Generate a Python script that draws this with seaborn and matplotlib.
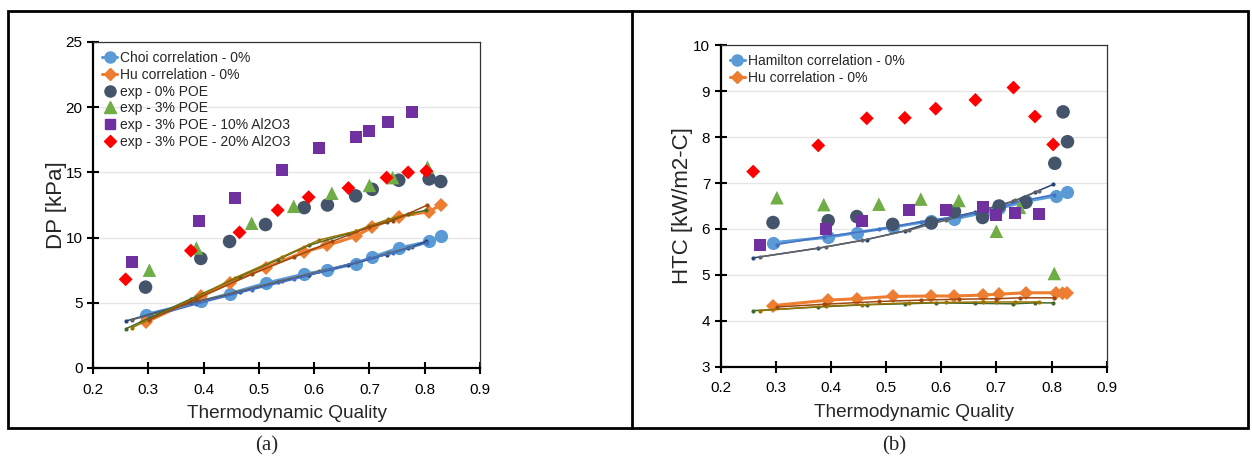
import matplotlib
matplotlib.use("Agg")
import matplotlib.pyplot as plt
from matplotlib.lines import Line2D
from matplotlib.patches import Rectangle
import seaborn as sns
import numpy as np

# x positions (thermodynamic quality) of each test set
x_0poe = [0.295, 0.395, 0.447, 0.512, 0.582, 0.624, 0.675, 0.705, 0.753, 0.808, 0.829]
x_3poe = [0.302, 0.387, 0.487, 0.563, 0.632, 0.700, 0.742, 0.805]
x_10al = [0.271, 0.391, 0.456, 0.541, 0.608, 0.676, 0.700, 0.734, 0.777]
x_20al = [0.259, 0.377, 0.465, 0.534, 0.590, 0.662, 0.731, 0.770, 0.803]
x_0poe_b = [0.295, 0.395, 0.447, 0.512, 0.582, 0.624, 0.675, 0.705, 0.753, 0.806, 0.821, 0.829]

# (a) pressure drop
dp_choi = [4.1, 5.1, 5.7, 6.5, 7.2, 7.5, 8.0, 8.5, 9.2, 9.7, 10.1]
dp_hu = [3.5, 5.5, 6.5, 7.7, 8.9, 9.4, 10.1, 10.8, 11.6, 12.0, 12.5]
dp_exp0 = [6.2, 8.4, 9.7, 11.0, 12.3, 12.5, 13.2, 13.7, 14.4, 14.5, 14.3]
dp_exp3 = [7.5, 9.2, 11.1, 12.4, 13.4, 14.0, 14.6, 15.4]
dp_exp10 = [8.1, 11.3, 13.0, 15.2, 16.9, 17.7, 18.2, 18.9, 19.6]
dp_exp20 = [6.8, 9.0, 10.4, 12.1, 13.1, 13.8, 14.6, 15.0, 15.1]
dp_choi_20 = [3.6, 5.0, 5.8, 6.6, 7.1, 7.9, 8.7, 9.2, 9.7]
dp_choi_10 = [3.7, 5.1, 5.8, 6.7, 7.4, 8.1, 8.4, 8.8, 9.3]
dp_choi_3 = [3.9, 4.9, 6.0, 6.8, 7.6, 8.4, 8.8, 9.6]
dp_hu_20 = [3.0, 5.3, 7.0, 8.3, 9.4, 10.3, 11.2, 11.8, 12.1]
dp_hu_10 = [3.1, 5.5, 6.9, 8.5, 9.8, 10.5, 10.9, 11.4, 11.9]
dp_hu_3 = [3.7, 5.3, 7.2, 8.5, 9.7, 10.8, 11.3, 12.5]

# (b) heat transfer coefficient
htc_ham = [5.7, 5.82, 5.92, 6.04, 6.18, 6.22, 6.35, 6.45, 6.6, 6.72, 6.8]
htc_hu = [4.33, 4.45, 4.48, 4.53, 4.54, 4.54, 4.56, 4.58, 4.61, 4.61, 4.61]
htc_hu_x = [0.295, 0.395, 0.447, 0.512, 0.582, 0.624, 0.675, 0.705, 0.753, 0.808, 0.829]
htc_exp0 = [6.14, 6.18, 6.27, 6.1, 6.13, 6.38, 6.25, 6.5, 6.58, 7.43, 8.55, 7.9]
htc_exp3 = [6.68, 6.53, 6.54, 6.65, 6.62, 5.95, 6.47, 5.03]
htc_exp10 = [5.64, 5.99, 6.18, 6.41, 6.41, 6.47, 6.3, 6.35, 6.32]
htc_exp20 = [7.25, 7.82, 8.41, 8.42, 8.62, 8.81, 9.08, 8.45, 7.84]
htc_ham_20 = [5.37, 5.58, 5.77, 5.96, 6.18, 6.37, 6.6, 6.8, 6.97]
htc_ham_10 = [5.39, 5.61, 5.75, 5.97, 6.19, 6.4, 6.5, 6.62, 6.83]
htc_ham_3 = [5.66, 5.83, 5.99, 6.16, 6.28, 6.45, 6.6, 6.75]
htc_hu_20 = [4.22, 4.3, 4.35, 4.37, 4.39, 4.38, 4.37, 4.39, 4.39]
htc_hu_10 = [4.22, 4.32, 4.35, 4.39, 4.4, 4.41, 4.41, 4.41, 4.41]
htc_hu_3 = [4.30, 4.36, 4.42, 4.45, 4.47, 4.48, 4.5, 4.5]

c_blue = "#5B9BD5"
c_orange = "#ED7D31"
c_slate = "#44546A"
c_green = "#70AD47"
c_purple = "#7030A0"
c_red = "#FF0000"

sns.set_style("white")
plt.rcParams['font.family'] = ['Liberation Sans', 'DejaVu Sans']

fig = plt.figure(figsize=(12.52, 4.59), dpi=100)
ax_a = fig.add_axes([0.0743, 0.1983, 0.3091, 0.7102])
ax_b = fig.add_axes([0.5756, 0.2011, 0.3083, 0.7002])


def thin(ax, x, y, color):
    sns.lineplot(x=x, y=y, ax=ax, color=color, lw=1.1, marker="o", ms=3,
                 markeredgewidth=0, sort=False, zorder=3)


def corr(ax, x, y, color, marker, ms):
    sns.lineplot(x=x, y=y, ax=ax, color=color, lw=2.2, marker=marker, ms=ms,
                 markeredgewidth=0, sort=False, zorder=2)


def exp(ax, x, y, color, marker, s):
    sns.scatterplot(x=x, y=y, ax=ax, color=color, marker=marker, s=s,
                    edgecolor="none", zorder=4)


# panel (a)
corr(ax_a, x_0poe, dp_choi, c_blue, "o", 9.5)
corr(ax_a, x_0poe, dp_hu, c_orange, "D", 7)
thin(ax_a, x_20al, dp_choi_20, "#264478")
thin(ax_a, x_10al, dp_choi_10, "#636363")
thin(ax_a, x_3poe, dp_choi_3, "#4472C4")
thin(ax_a, x_20al, dp_hu_20, "#43682B")
thin(ax_a, x_10al, dp_hu_10, "#997300")
thin(ax_a, x_3poe, dp_hu_3, "#9E480E")
exp(ax_a, x_0poe, dp_exp0, c_slate, "o", 95)
exp(ax_a, x_3poe, dp_exp3, c_green, "^", 95)
exp(ax_a, x_10al, dp_exp10, c_purple, "s", 75)
exp(ax_a, x_20al, dp_exp20, c_red, "D", 50)

# panel (b)
corr(ax_b, x_0poe, htc_ham, c_blue, "o", 9.5)
corr(ax_b, htc_hu_x, htc_hu, c_orange, "D", 7)
exp(ax_b, [0.82], [4.6], c_orange, "D", 50)
thin(ax_b, x_20al, htc_ham_20, "#264478")
thin(ax_b, x_10al, htc_ham_10, "#636363")
thin(ax_b, x_3poe, htc_ham_3, "#4472C4")
thin(ax_b, x_20al, htc_hu_20, "#43682B")
thin(ax_b, x_10al, htc_hu_10, "#997300")
thin(ax_b, x_3poe, htc_hu_3, "#9E480E")
exp(ax_b, x_0poe_b, htc_exp0, c_slate, "o", 95)
exp(ax_b, x_3poe, htc_exp3, c_green, "^", 95)
exp(ax_b, x_10al, htc_exp10, c_purple, "s", 75)
exp(ax_b, x_20al, htc_exp20, c_red, "D", 50)

for ax, ylim, ystep, ylab, ypad in [(ax_a, (0, 25), 5, "DP [kPa]", -1),
                                    (ax_b, (3, 10), 1, "HTC [kW/m2-C]", 0)]:
    ax.set_xlim(0.2, 0.9)
    ax.set_ylim(*ylim)
    ax.set_xticks(np.arange(0.2, 0.91, 0.1))
    ax.set_xticklabels([f"{v:.1f}" for v in np.arange(0.2, 0.91, 0.1)])
    ax.set_yticks(np.arange(ylim[0], ylim[1] + 0.1, ystep))
    ax.yaxis.grid(True, color="#E6E6E6", lw=1)
    ax.set_axisbelow(True)
    ax.tick_params(direction="inout", length=8, width=1.5, labelsize=11,
                   colors="black", left=True, bottom=True)
    ax.tick_params(axis="x", pad=6.5)
    for side in ["left", "bottom"]:
        ax.spines[side].set_color("black")
        ax.spines[side].set_linewidth(1.6)
    for side in ["top", "right"]:
        ax.spines[side].set_color("#333333")
        ax.spines[side].set_linewidth(0.9)
    ax.set_xlabel("Thermodynamic Quality", fontsize=13.7, labelpad=6)
    ax.set_ylabel(ylab, fontsize=16, labelpad=ypad)

h_a = [
    Line2D([], [], color=c_blue, lw=2.2, marker="o", ms=8),
    Line2D([], [], color=c_orange, lw=2.2, marker="D", ms=6),
    Line2D([], [], ls="none", color=c_slate, marker="o", ms=8),
    Line2D([], [], ls="none", color=c_green, marker="^", ms=8),
    Line2D([], [], ls="none", color=c_purple, marker="s", ms=7),
    Line2D([], [], ls="none", color=c_red, marker="D", ms=6),
]
l_a = ["Choi correlation - 0%", "Hu correlation - 0%", "exp - 0% POE",
       "exp - 3% POE", "exp - 3% POE - 10% Al2O3", "exp - 3% POE - 20% Al2O3"]
leg_kw = dict(loc="upper left", bbox_to_anchor=(0.0, 1.0), frameon=False,
              fontsize=10, handlelength=1.1, handletextpad=0.2, labelspacing=0.2,
              borderaxespad=0.25)
ax_a.legend(h_a, l_a, **leg_kw)
ax_b.legend(h_a[:2], ["Hamilton correlation - 0%", "Hu correlation - 0%"], **leg_kw)

# table-like frame with captions
fig.patches.append(Rectangle((8 / 1252, 1 - 428 / 459), 1240 / 1252, 417 / 459,
                             transform=fig.transFigure, fill=False, lw=2, ec="black"))
fig.lines.append(Line2D([632 / 1252, 632 / 1252], [1 - 428 / 459, 1 - 11 / 459],
                        transform=fig.transFigure, color="black", lw=2))
fig.text(267 / 1252, 1 - 446 / 459, "(a)", ha="center", va="center",
         fontsize=15, family="Liberation Serif")
fig.text(894 / 1252, 1 - 446 / 459, "(b)", ha="center", va="center",
         fontsize=15, family="Liberation Serif")

fig.savefig("out.png", dpi=100)
